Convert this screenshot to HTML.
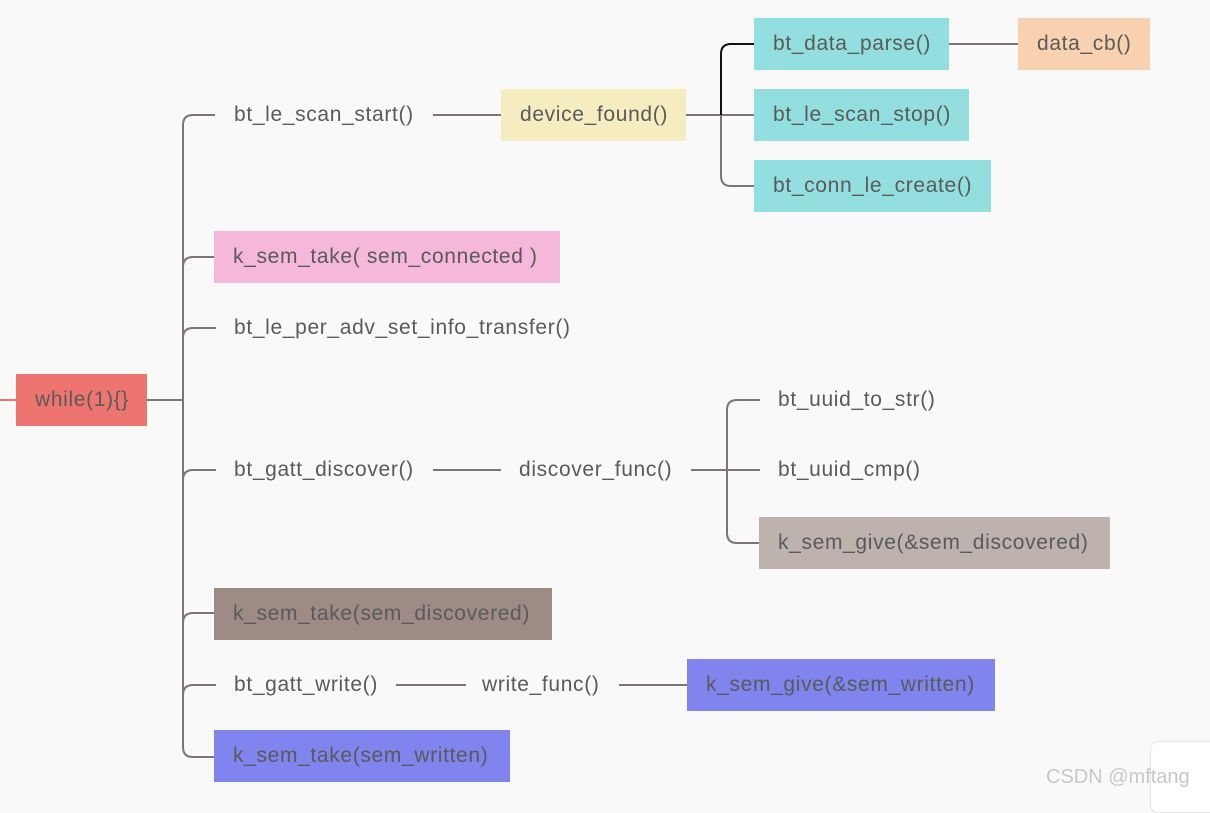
<!DOCTYPE html>
<html><head><meta charset="utf-8"><style>
html,body{margin:0;padding:0;}
body{width:1210px;height:799px;background:#f9f9f9;position:relative;overflow:hidden;font-family:"Liberation Sans",Arial,sans-serif;}
.n{position:absolute;box-sizing:border-box;color:#5a5a5a;font-size:21px;letter-spacing:0.65px;line-height:52px;height:52px;padding-left:19px;white-space:nowrap;}
.t{position:absolute;color:#5a5a5a;font-size:21px;letter-spacing:0.65px;white-space:nowrap;transform:translateY(-50%);line-height:24px;}
svg{position:absolute;left:0;top:0;}
</style></head><body>
<svg width="1210" height="799" fill="none" stroke="#7a7676" stroke-width="2">
<line x1="0" y1="400" x2="16" y2="400" stroke="#ee7470"/>
<line x1="147" y1="400" x2="183" y2="400"/>
<path d="M215 115 H193 Q183 115 183 125 V747 Q183 757 193 757 H214"/>
<path d="M183 267 Q183 257 193 257 H214"/>
<path d="M183 338 Q183 328 193 328 H216"/>
<path d="M183 480 Q183 470 193 470 H216"/>
<path d="M183 623 Q183 613 193 613 H214"/>
<path d="M183 695 Q183 685 193 685 H216"/>
<line x1="433" y1="115" x2="501" y2="115"/>
<line x1="686" y1="115" x2="754" y2="115"/>
<path d="M721 115 V176 Q721 186 731 186 H754"/>
<path d="M721 115 V54 Q721 44 731 44 H754" stroke="#111"/>
<line x1="949" y1="44" x2="1018" y2="44"/>
<line x1="433" y1="470" x2="501" y2="470"/>
<line x1="691" y1="470" x2="760" y2="470"/>
<path d="M760 400 H737 Q727 400 727 410 V533 Q727 543 737 543 H759"/>
<line x1="396" y1="685" x2="466" y2="685"/>
<line x1="619" y1="685" x2="687" y2="685"/>
</svg>
<div class="n" style="left:16px;top:374px;width:131px;background:#ee7470;">while(1){}</div>
<div class="t" style="left:234px;top:115px;">bt_le_scan_start()</div>
<div class="n" style="left:501px;top:89px;width:185px;background:#f5edc0;">device_found()</div>
<div class="n" style="left:754px;top:18px;width:195px;background:#93dfdf;">bt_data_parse()</div>
<div class="n" style="left:1018px;top:18px;width:132px;background:#f8d2b0;">data_cb()</div>
<div class="n" style="left:754px;top:89px;width:215px;background:#93dfdf;">bt_le_scan_stop()</div>
<div class="n" style="left:754px;top:160px;width:237px;background:#93dfdf;">bt_conn_le_create()</div>
<div class="n" style="left:214px;top:231px;width:346px;background:#f5b8da;">k_sem_take( sem_connected )</div>
<div class="t" style="left:234px;top:328px;">bt_le_per_adv_set_info_transfer()</div>
<div class="t" style="left:234px;top:470px;">bt_gatt_discover()</div>
<div class="t" style="left:519px;top:470px;">discover_func()</div>
<div class="t" style="left:778px;top:400px;">bt_uuid_to_str()</div>
<div class="t" style="left:778px;top:470px;">bt_uuid_cmp()</div>
<div class="n" style="left:759px;top:517px;width:351px;background:#bdb2ad;">k_sem_give(&amp;sem_discovered)</div>
<div class="n" style="left:214px;top:588px;width:338px;background:#9e8b85;">k_sem_take(sem_discovered)</div>
<div class="t" style="left:234px;top:685px;">bt_gatt_write()</div>
<div class="t" style="left:482px;top:685px;">write_func()</div>
<div class="n" style="left:687px;top:659px;width:308px;background:#7f84ee;">k_sem_give(&amp;sem_written)</div>
<div class="n" style="left:214px;top:730px;width:296px;background:#7f84ee;">k_sem_take(sem_written)</div>
<div style="position:absolute;left:1150px;top:741px;width:70px;height:70px;background:#fff;border:1px solid #e6e6e6;border-radius:8px;"></div>
<div style="position:absolute;left:1046px;top:766px;font-size:20px;color:#c8c8c8;font-family:'Liberation Sans',sans-serif;">CSDN @mftang</div>
</body></html>
